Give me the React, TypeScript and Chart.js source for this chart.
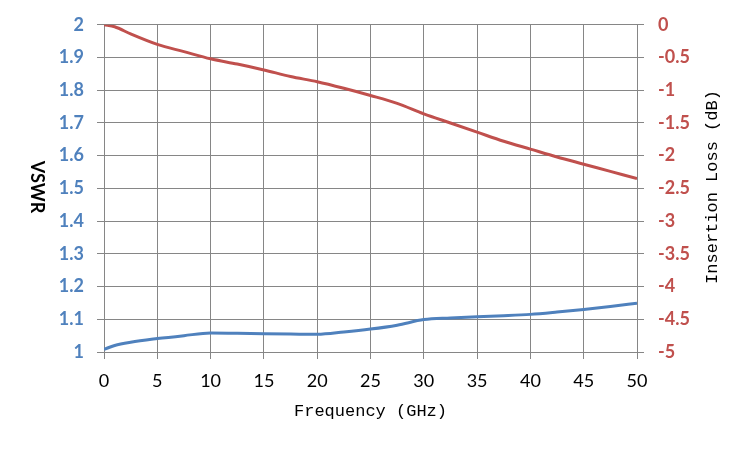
import { useEffect, useRef } from "react";
import { Chart, registerables } from "chart.js";

Chart.register(...registerables);

const frequency = [0, 1, 2.5, 5, 7.5, 10, 12.5, 15, 17.5, 20, 22.5, 25, 27.5, 30, 32.5, 35, 37.5, 40, 42.5, 45, 47.5, 50];
const insertionLoss = [0, -0.03, -0.14, -0.3, -0.41, -0.52, -0.6, -0.69, -0.79, -0.87, -0.97, -1.08, -1.2, -1.36, -1.5, -1.64, -1.78, -1.9, -2.02, -2.13, -2.24, -2.35];
const vswr = [1.008, 1.02, 1.03, 1.041, 1.05, 1.058, 1.057, 1.056, 1.055, 1.054, 1.061, 1.07, 1.082, 1.099, 1.104, 1.108, 1.111, 1.115, 1.122, 1.13, 1.139, 1.149];

const vswrTicks = [1, 1.1, 1.2, 1.3, 1.4, 1.5, 1.6, 1.7, 1.8, 1.9, 2];
const lossTicks = [-5, -4.5, -4, -3.5, -3, -2.5, -2, -1.5, -1, -0.5, 0];
const freqTicks = [0, 5, 10, 15, 20, 25, 30, 35, 40, 45, 50];

const BLUE = "#4F81BD";
const RED = "#C0504D";
const GRID = "#868686";

// axis titles drawn by hand: the reference rotates them opposite to Chart.js
const titlesPlugin = {
  id: "titles",
  afterDraw(chart: Chart) {
    const ctx = chart.ctx;
    const area = chart.chartArea;
    ctx.save();
    ctx.fillStyle = "#000";
    ctx.textAlign = "center";
    ctx.textBaseline = "middle";

    ctx.font = "17px 'Liberation Mono'";
    ctx.fillText("Frequency (GHz)", (area.left + area.right) / 2, 411);

    ctx.save();
    ctx.translate(712, 187);
    ctx.rotate(-Math.PI / 2);
    ctx.fillText("Insertion Loss (dB)", 0, 0);
    ctx.restore();

    ctx.save();
    ctx.font = "bold 18px Lato";
    ctx.translate(37, 187);
    ctx.rotate(Math.PI / 2);
    ctx.fillText("VSWR", 0, 0);
    ctx.restore();

    ctx.restore();
  },
};

const fmt = (v: number) => String(Number(v.toFixed(2)));

export default function App() {
  const canvasRef = useRef<HTMLCanvasElement | null>(null);

  useEffect(() => {
    document.body.style.margin = "0";
    const ctx = canvasRef.current?.getContext("2d");
    if (!ctx) return;

    const chart = new Chart(ctx, {
      type: "line",
      data: {
        datasets: [
          {
            label: "Insertion Loss",
            data: frequency.map((f, i) => ({ x: f, y: insertionLoss[i] })),
            borderColor: RED,
            borderWidth: 3,
            pointRadius: 0,
            cubicInterpolationMode: "monotone",
            yAxisID: "yLoss",
          },
          {
            label: "VSWR",
            data: frequency.map((f, i) => ({ x: f, y: vswr[i] })),
            borderColor: BLUE,
            borderWidth: 3,
            pointRadius: 0,
            cubicInterpolationMode: "monotone",
            yAxisID: "yVswr",
          },
        ],
      },
      options: {
        responsive: false,
        animation: false,
        layout: { padding: { top: 22 } },
        plugins: {
          legend: { display: false },
          tooltip: { enabled: false },
        },
        scales: {
          x: {
            type: "linear",
            min: 0,
            max: 50,
            afterBuildTicks: (s: any) => {
              s.ticks = freqTicks.map((v) => ({ value: v }));
            },
            afterFit: (s: any) => {
              s.height = 98;
            },
            ticks: {
              color: "#000",
              font: { family: "Lato", size: 18 },
              padding: 11,
              maxRotation: 0,
              callback: (v: any) => fmt(Number(v)),
            },
            grid: { color: GRID, tickLength: 7 },
            border: { color: GRID },
          },
          yVswr: {
            type: "linear",
            position: "left",
            min: 1,
            max: 2,
            afterBuildTicks: (s: any) => {
              s.ticks = vswrTicks.map((v) => ({ value: v }));
            },
            afterFit: (s: any) => {
              s.width = 104;
            },
            ticks: {
              color: BLUE,
              font: { family: "Lato", size: 18, weight: "bold" },
              padding: 13,
              callback: (v: any) => fmt(Number(v)),
            },
            grid: { color: GRID, tickLength: 7 },
            border: { color: GRID },
          },
          yLoss: {
            type: "linear",
            position: "right",
            min: -5,
            max: 0,
            afterBuildTicks: (s: any) => {
              s.ticks = lossTicks.map((v) => ({ value: v }));
            },
            afterFit: (s: any) => {
              s.width = 113;
            },
            ticks: {
              color: RED,
              font: { family: "Lato", size: 18, weight: "bold" },
              padding: 14,
              callback: (v: any) => fmt(Number(v)),
            },
            grid: { color: GRID, tickLength: 7, drawOnChartArea: false },
            border: { color: GRID },
          },
        },
      },
      plugins: [titlesPlugin],
    });

    return () => {
      chart.destroy();
    };
  }, []);

  return (
    <div style={{ width: 750, height: 450, background: "#fff" }}>
      <canvas ref={canvasRef} width={750} height={450} />
    </div>
  );
}
